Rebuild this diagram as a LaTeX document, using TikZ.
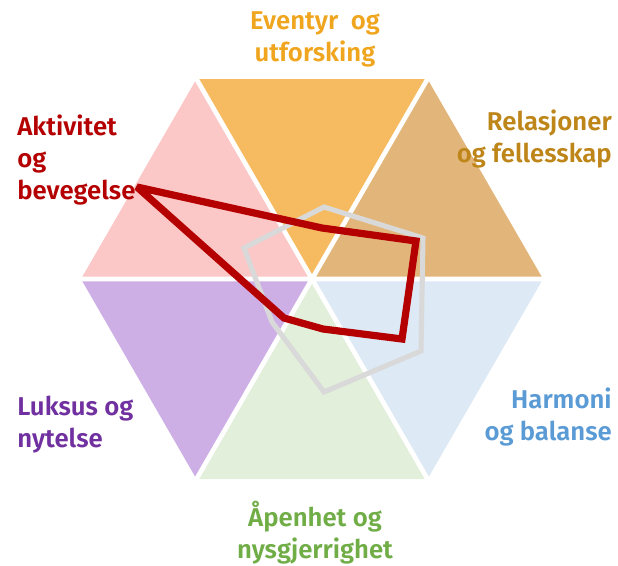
\documentclass[tikz,border=0pt]{standalone}
\usepackage{fontspec}
\setmainfont{Fira Sans}[BoldFont={Fira Sans SemiBold}]
\definecolor{fpink}{RGB}{252,199,199}
\definecolor{forange}{RGB}{246,187,96}
\definecolor{ftan}{RGB}{226,182,122}
\definecolor{fpurple}{RGB}{205,175,230}
\definecolor{fgreen}{RGB}{226,239,218}
\definecolor{fblue}{RGB}{221,233,245}
\definecolor{tred}{RGB}{180,0,0}
\definecolor{torange}{RGB}{240,165,30}
\definecolor{ttan}{RGB}{190,133,25}
\definecolor{tblue}{RGB}{91,155,213}
\definecolor{tpurple}{RGB}{112,48,160}
\definecolor{tgreen}{RGB}{112,173,71}
\definecolor{lgray}{RGB}{217,217,217}
\begin{document}
\begin{tikzpicture}[x=0.75pt,y=-0.75pt,
  lab/.style={font=\bfseries\fontsize{19.3}{24}\selectfont, inner sep=0pt},
  gap/.style={white, line width=3.5pt},
  radar/.style={lgray, line width=3.8pt},
  score/.style={tred, line width=5.4pt, miter limit=2.5}]
\useasboundingbox (0,0) rectangle (618,565);
% hexagon geometry
\coordinate (C) at (312,279);
\coordinate (L) at (81,279);
\coordinate (TL) at (196.5,79);
\coordinate (TR) at (427.5,79);
\coordinate (R) at (543,279);
\coordinate (BR) at (427.5,479);
\coordinate (BL) at (196.5,479);
\fill[fpink] (L) -- (TL) -- (C) -- cycle;
\fill[forange] (TL) -- (TR) -- (C) -- cycle;
\fill[ftan] (TR) -- (R) -- (C) -- cycle;
\fill[fblue] (R) -- (BR) -- (C) -- cycle;
\fill[fgreen] (BR) -- (BL) -- (C) -- cycle;
\fill[fpurple] (BL) -- (L) -- (C) -- cycle;
\draw[gap] (L) -- (R) (TL) -- (BR) (TR) -- (BL);
% grey reference polygon
\coordinate (g1) at (324,207);
\coordinate (g2) at (423,238);
\coordinate (g3) at (421,351);
\coordinate (g4) at (324,392);
\coordinate (g5) at (272,322);
\coordinate (g6) at (244,248);
\draw[radar] (g1) -- (g2) -- (g3) -- (g4) -- (g5) -- (g6) -- cycle;
% red score polygon
\coordinate (p1) at (137,187);
\coordinate (p2) at (322,228);
\coordinate (p3) at (416,241);
\coordinate (p4) at (402,339);
\coordinate (p5) at (323,329);
\coordinate (p6) at (284,318);
\draw[score] (p1) -- (p2) -- (p3) -- (p4) -- (p5) -- (p6) -- cycle;
% labels
\node[lab, text=torange, align=center] (eventyr) at (315,39) {Eventyr~\ og\\utforsking};
\node[lab, text=tred, align=left, anchor=west] (aktivitet) at (17,160) {Aktivitet\\og\\bevegelse};
\node[lab, text=ttan, align=right, anchor=east] (relasjoner) at (612,139) {Relasjoner\\og fellesskap};
\node[lab, text=tblue, align=right, anchor=east] (harmoni) at (612,417) {Harmoni\\og balanse};
\node[lab, text=tpurple, align=left, anchor=west] (luksus) at (17,425) {Luksus og\\nytelse};
\node[lab, text=tgreen, align=center] (apenhet) at (315,533) {Åpenhet og\\nysgjerrighet};
\end{tikzpicture}
\end{document}
